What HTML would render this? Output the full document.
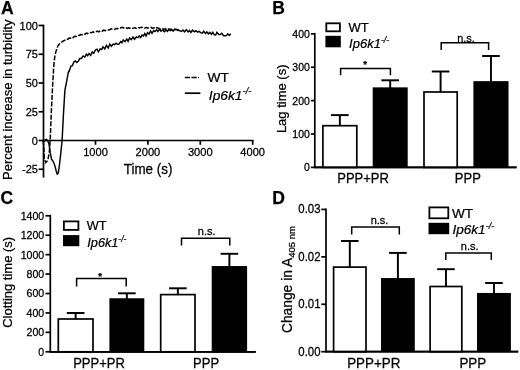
<!DOCTYPE html>
<html lang="en"><head><meta charset="utf-8"><title>Figure</title>
<style>
html,body{margin:0;padding:0;background:#fff;}
body{width:520px;height:370px;overflow:hidden;}
svg{display:block;will-change:transform;}
svg text{font-family:"Liberation Sans", Arial, Helvetica, sans-serif;fill:#000;stroke:#000;stroke-width:0.25px;}
</style></head><body>
<svg width="520" height="370" viewBox="0 0 520 370">
<rect x="0" y="0" width="520" height="370" fill="#fff"/>
<text transform="translate(1.10,13.80) scale(1,1.0)" font-size="17.5" text-anchor="start" font-weight="bold" font-style="normal" >A</text>
<text transform="translate(272.20,13.70) scale(1,1.0)" font-size="17.5" text-anchor="start" font-weight="bold" font-style="normal" >B</text>
<text transform="translate(0.40,204.00) scale(1,1.0)" font-size="17.5" text-anchor="start" font-weight="bold" font-style="normal" >C</text>
<text transform="translate(272.30,203.80) scale(1,1.0)" font-size="17.5" text-anchor="start" font-weight="bold" font-style="normal" >D</text>
<line x1="43.50" y1="24.65" x2="43.50" y2="177.60" stroke="#000" stroke-width="1.7" />
<line x1="38.60" y1="25.50" x2="43.50" y2="25.50" stroke="#000" stroke-width="1.7" />
<text transform="translate(37.90,29.50) scale(1,1.02)" font-size="11.0" text-anchor="end" font-weight="normal" font-style="normal" >100</text>
<line x1="38.60" y1="54.25" x2="43.50" y2="54.25" stroke="#000" stroke-width="1.7" />
<text transform="translate(37.90,58.25) scale(1,1.02)" font-size="11.0" text-anchor="end" font-weight="normal" font-style="normal" >75</text>
<line x1="38.60" y1="83.00" x2="43.50" y2="83.00" stroke="#000" stroke-width="1.7" />
<text transform="translate(37.90,87.00) scale(1,1.02)" font-size="11.0" text-anchor="end" font-weight="normal" font-style="normal" >50</text>
<line x1="38.60" y1="111.75" x2="43.50" y2="111.75" stroke="#000" stroke-width="1.7" />
<text transform="translate(37.90,115.75) scale(1,1.02)" font-size="11.0" text-anchor="end" font-weight="normal" font-style="normal" >25</text>
<line x1="38.60" y1="140.50" x2="43.50" y2="140.50" stroke="#000" stroke-width="1.7" />
<text transform="translate(37.90,144.50) scale(1,1.02)" font-size="11.0" text-anchor="end" font-weight="normal" font-style="normal" >0</text>
<line x1="38.60" y1="169.25" x2="43.50" y2="169.25" stroke="#000" stroke-width="1.7" />
<text transform="translate(37.90,173.25) scale(1,1.02)" font-size="11.0" text-anchor="end" font-weight="normal" font-style="normal" >-25</text>
<line x1="43.50" y1="140.50" x2="253.55" y2="140.50" stroke="#000" stroke-width="1.7" />
<line x1="95.50" y1="140.50" x2="95.50" y2="144.80" stroke="#000" stroke-width="1.7" />
<text transform="translate(95.50,156.40) scale(1,1.02)" font-size="11.1" text-anchor="middle" font-weight="normal" font-style="normal" >1000</text>
<line x1="147.90" y1="140.50" x2="147.90" y2="144.80" stroke="#000" stroke-width="1.7" />
<text transform="translate(147.90,156.40) scale(1,1.02)" font-size="11.1" text-anchor="middle" font-weight="normal" font-style="normal" >2000</text>
<line x1="200.30" y1="140.50" x2="200.30" y2="144.80" stroke="#000" stroke-width="1.7" />
<text transform="translate(200.30,156.40) scale(1,1.02)" font-size="11.1" text-anchor="middle" font-weight="normal" font-style="normal" >3000</text>
<line x1="252.70" y1="140.50" x2="252.70" y2="144.80" stroke="#000" stroke-width="1.7" />
<text transform="translate(252.70,156.40) scale(1,1.02)" font-size="11.1" text-anchor="middle" font-weight="normal" font-style="normal" >4000</text>
<text transform="translate(148.10,173.60) scale(1,1.06)" font-size="13.4" text-anchor="middle" font-weight="normal" font-style="normal" >Time (s)</text>
<text transform="translate(12.00,99.80) rotate(-90)" font-size="13" text-anchor="middle" >Percent increase in turbidity</text>
<path d="M43.10,140.50 L43.40,142.86 L43.70,145.21 L44.00,150.76 L44.30,157.90 L44.60,158.82 L44.90,159.74 L45.20,160.66 L45.50,161.58 L45.80,162.50 L46.10,162.19 L46.40,161.87 L46.70,161.56 L47.00,161.24 L47.30,160.93 L47.60,160.61 L47.90,159.87 L48.20,158.27 L48.50,156.67 L48.80,155.07 L49.10,153.26 L49.40,151.04 L49.70,147.18 L50.00,142.49 L50.30,137.80 L50.60,130.06 L50.90,122.32 L51.20,114.58 L51.50,108.00 L51.80,102.00 L52.10,96.00 L52.40,90.00 L52.70,84.51 L53.00,79.27 L53.30,74.03 L53.60,68.79 L53.90,64.38 L54.20,61.61 L54.50,58.84 L54.80,56.52 L55.10,55.09 L55.40,53.66 L55.70,52.39 L56.00,51.44 L56.30,50.50 L56.60,49.55 L56.90,48.61 L57.20,47.66 L57.50,46.72 L57.80,46.13 L58.10,45.73 L58.40,45.33 L58.70,44.93 L59.00,44.53 L59.30,44.13 L59.60,43.73 L59.90,43.33 L60.20,43.06 L60.50,42.85 L60.80,42.65 L61.10,42.44 L61.40,42.23 L61.70,42.02 L62.00,41.82 L62.30,41.61 L62.60,41.40 L62.90,41.24 L63.20,41.08 L63.50,40.92 L63.80,40.76 L64.10,40.61 L64.40,40.45 L64.70,40.29 L65.00,40.13 L65.30,39.97 L65.60,39.81 L65.90,39.65 L66.20,39.31 L67.79,39.35 L69.21,38.08 L70.43,38.20 L71.69,37.08 L72.96,37.61 L74.73,36.26 L76.52,36.53 L77.89,35.35 L79.27,35.46 L80.82,34.54 L82.35,34.67 L83.68,33.83 L85.06,34.20 L86.44,33.05 L87.79,33.58 L89.52,32.51 L91.30,32.78 L92.96,31.81 L94.18,32.48 L95.73,32.03 L97.34,31.07 L98.82,31.82 L100.30,30.84 L101.92,31.35 L103.61,30.17 L105.22,30.62 L106.52,29.90 L108.18,30.10 L109.61,29.82 L111.08,28.87 L112.77,28.90 L114.22,29.52 L116.00,28.42 L117.34,28.67 L118.89,27.76 L120.34,27.95 L122.11,27.25 L123.68,27.93 L125.42,27.35 L127.10,28.36 L128.36,27.91 L129.60,28.26 L131.01,27.83 L132.30,28.24 L133.51,28.31 L134.80,27.52 L136.22,28.31 L138.02,27.33 L139.27,27.96 L140.63,27.38 L141.84,27.24 L143.13,27.81 L144.65,28.22 L146.26,27.40 L147.57,28.13 L149.23,27.52 L150.92,27.30 L152.60,28.48 L153.94,27.82 L155.16,28.53 L156.51,27.80 L157.98,27.94 L159.75,28.96 L161.09,28.59 L162.66,28.44 L164.15,29.61 L165.40,28.65 L167.07,29.71 L168.38,29.16 L170.06,29.28 L171.50,29.21 L172.80,29.99 L174.55,29.66 L176.24,29.53 L177.65,30.27 L178.86,30.57" fill="none" stroke="#000" stroke-width="1.5" stroke-dasharray="5 1.6"/>
<path d="M43.10,140.50 L43.40,140.71 L43.70,140.93 L44.00,141.14 L44.30,141.36 L44.60,141.33 L44.90,140.82 L45.20,140.31 L45.50,139.80 L45.80,139.65 L46.10,139.50 L46.40,139.35 L46.70,139.56 L47.00,139.95 L47.30,140.35 L47.60,140.74 L47.90,141.25 L48.20,142.00 L48.50,142.75 L48.80,143.50 L49.10,144.68 L49.40,146.74 L49.70,148.79 L50.00,150.85 L50.30,152.90 L50.60,154.45 L50.90,156.00 L51.20,157.55 L51.50,159.10 L51.80,159.53 L52.10,159.97 L52.40,160.40 L52.70,160.83 L53.00,161.27 L53.30,161.70 L53.60,162.44 L53.90,163.18 L54.20,163.92 L54.50,164.66 L54.80,165.40 L55.10,166.60 L55.40,167.80 L55.70,169.00 L56.00,170.20 L56.30,171.31 L56.60,172.24 L56.90,173.16 L57.20,174.09 L57.50,174.12 L57.80,173.70 L58.10,173.28 L58.40,172.30 L58.70,170.20 L59.00,168.10 L59.30,166.00 L59.60,163.57 L59.90,161.14 L60.20,158.71 L60.50,155.97 L60.80,153.07 L61.10,150.17 L61.40,147.27 L61.70,144.37 L62.00,141.47 L62.30,136.59 L62.60,130.73 L62.90,124.87 L63.20,119.01 L63.50,113.43 L63.80,108.41 L64.10,103.39 L64.40,98.37 L64.70,93.35 L65.00,89.53 L65.30,88.11 L65.60,86.69 L65.90,85.27 L66.20,83.85 L66.50,82.34 L66.80,80.66 L67.10,78.97 L67.40,77.29 L67.70,75.61 L68.00,73.92 L68.30,72.55 L68.60,71.80 L68.90,71.05 L69.20,71.28 L70.98,66.05 L72.38,65.59 L73.98,61.79 L75.30,61.00 L76.83,62.45 L78.33,60.99 L79.90,58.53 L81.41,58.49 L83.14,55.99 L84.83,57.01 L86.40,54.12 L87.70,55.77 L89.11,53.40 L90.70,55.40 L92.22,52.05 L93.77,53.40 L95.34,50.05 L97.02,49.28 L98.42,51.89 L100.18,48.87 L101.69,49.49 L102.98,46.75 L104.78,48.89 L106.42,45.44 L108.26,47.99 L109.75,44.16 L111.51,46.21 L113.07,44.03 L114.50,44.66 L116.09,43.24 L117.53,44.33 L118.81,44.30 L120.66,41.55 L121.92,42.70 L123.24,39.95 L124.99,41.62 L126.80,39.14 L128.09,41.37 L129.60,37.98 L131.23,39.63 L133.00,37.03 L134.52,39.21 L136.34,36.93 L137.90,37.60 L139.24,35.94 L140.68,37.57 L142.10,35.02 L143.55,35.89 L144.80,33.58 L146.16,35.84 L147.47,32.78 L149.01,34.14 L150.57,30.96 L152.02,33.43 L153.65,30.63 L154.93,31.54 L156.63,29.82 L157.92,31.56 L159.57,29.08 L161.00,31.19 L162.51,30.04 L164.36,31.77 L166.19,29.96 L167.44,31.39 L168.99,29.26 L170.23,30.68 L171.72,29.80 L173.15,31.23 L174.71,29.09 L176.40,29.39 L177.84,29.66 L179.53,30.69 L181.29,31.46 L182.98,29.95 L184.55,31.90 L186.29,29.66 L188.08,31.96 L189.46,30.41 L190.93,32.39 L192.51,30.14 L194.17,31.75 L195.91,30.59 L197.48,32.13 L199.18,31.40 L200.58,32.61 L202.28,33.11 L203.76,31.19 L205.47,33.61 L206.76,31.98 L208.46,33.83 L209.71,32.27 L211.37,34.25 L212.79,32.37 L214.32,34.80 L215.68,34.99 L216.93,32.40 L218.77,34.56 L220.14,34.63 L221.74,33.22 L223.57,35.66 L225.13,35.69 L226.51,35.59 L227.77,33.86 L229.29,35.48 L230.74,33.77" fill="none" stroke="#000" stroke-width="1.45" stroke-linejoin="miter"/>
<line x1="184.80" y1="77.50" x2="199.00" y2="77.50" stroke="#000" stroke-width="1.7" stroke-dasharray="5.3 1.4"/>
<line x1="184.80" y1="93.20" x2="200.40" y2="93.20" stroke="#000" stroke-width="1.7" />
<text transform="translate(207.60,82.00) scale(1,0.97)" font-size="13.8" text-anchor="start" font-weight="normal" font-style="normal" >WT</text>
<text transform="translate(208.80,99.60) scale(1,0.97)" font-size="13.8" font-style="italic">Ip6k1<tspan font-size="9.4" dy="-5.5">-/-</tspan></text>
<line x1="314.80" y1="33.00" x2="314.80" y2="168.25" stroke="#000" stroke-width="1.7" />
<line x1="314.80" y1="167.40" x2="516.60" y2="167.40" stroke="#000" stroke-width="1.7" />
<line x1="310.90" y1="167.40" x2="314.80" y2="167.40" stroke="#000" stroke-width="1.7" />
<text transform="translate(309.80,171.30) scale(1,1.06)" font-size="10.5" text-anchor="end" font-weight="normal" font-style="normal" >0</text>
<line x1="310.90" y1="134.01" x2="314.80" y2="134.01" stroke="#000" stroke-width="1.7" />
<text transform="translate(309.80,137.91) scale(1,1.06)" font-size="10.5" text-anchor="end" font-weight="normal" font-style="normal" >100</text>
<line x1="310.90" y1="100.62" x2="314.80" y2="100.62" stroke="#000" stroke-width="1.7" />
<text transform="translate(309.80,104.53) scale(1,1.06)" font-size="10.5" text-anchor="end" font-weight="normal" font-style="normal" >200</text>
<line x1="310.90" y1="67.24" x2="314.80" y2="67.24" stroke="#000" stroke-width="1.7" />
<text transform="translate(309.80,71.14) scale(1,1.06)" font-size="10.5" text-anchor="end" font-weight="normal" font-style="normal" >300</text>
<line x1="310.90" y1="33.85" x2="314.80" y2="33.85" stroke="#000" stroke-width="1.7" />
<text transform="translate(309.80,37.75) scale(1,1.06)" font-size="10.5" text-anchor="end" font-weight="normal" font-style="normal" >400</text>
<line x1="339.85" y1="125.70" x2="339.85" y2="115.10" stroke="#000" stroke-width="1.95" />
<line x1="331.05" y1="115.10" x2="348.65" y2="115.10" stroke="#000" stroke-width="1.95" />
<rect x="322.90" y="125.70" width="33.90" height="41.70" fill="#fff" stroke="#000" stroke-width="1.7"/>
<line x1="390.20" y1="88.20" x2="390.20" y2="80.30" stroke="#000" stroke-width="1.95" />
<line x1="381.40" y1="80.30" x2="399.00" y2="80.30" stroke="#000" stroke-width="1.95" />
<rect x="372.70" y="87.35" width="35.00" height="80.05" fill="#000"/>
<line x1="440.60" y1="92.00" x2="440.60" y2="71.50" stroke="#000" stroke-width="1.95" />
<line x1="431.80" y1="71.50" x2="449.40" y2="71.50" stroke="#000" stroke-width="1.95" />
<rect x="424.00" y="92.00" width="33.20" height="75.40" fill="#fff" stroke="#000" stroke-width="1.7"/>
<line x1="490.95" y1="82.00" x2="490.95" y2="56.00" stroke="#000" stroke-width="1.95" />
<line x1="482.15" y1="56.00" x2="499.75" y2="56.00" stroke="#000" stroke-width="1.95" />
<rect x="473.40" y="81.15" width="35.10" height="86.25" fill="#000"/>
<line x1="314.80" y1="167.40" x2="516.60" y2="167.40" stroke="#000" stroke-width="1.7" />
<rect x="326.30" y="23.30" width="13.60" height="8.00" fill="#fff" stroke="#000" stroke-width="1.8"/>
<rect x="325.40" y="35.80" width="15.40" height="11.50" fill="#000"/>
<text transform="translate(348.60,31.60) scale(1,0.97)" font-size="13.0" text-anchor="start" font-weight="normal" font-style="normal" >WT</text>
<text transform="translate(349.10,47.60) scale(1,0.97)" font-size="13.0" font-style="italic">Ip6k1<tspan font-size="8.8" dy="-5.2">-/-</tspan></text>
<path d="M340.60,75.20 V68.40 H390.40 V75.20" fill="none" stroke="#000" stroke-width="1.5"/>
<text transform="translate(365.20,67.40) scale(1,1.0)" font-size="9.5" text-anchor="middle" font-weight="bold" font-style="normal" >*</text>
<path d="M441.20,50.10 V42.70 H488.60 V50.10" fill="none" stroke="#000" stroke-width="1.5"/>
<text transform="translate(466.00,41.50) scale(1,1.06)" font-size="11" text-anchor="middle" font-weight="normal" font-style="normal" >n.s.</text>
<text transform="translate(363.10,183.00) scale(1,1.06)" font-size="13" text-anchor="middle" font-weight="normal" font-style="normal" >PPP+PR</text>
<text transform="translate(467.80,183.00) scale(1,1.06)" font-size="13" text-anchor="middle" font-weight="normal" font-style="normal" >PPP</text>
<text transform="translate(285.5,98.8) rotate(-90)" font-size="13" text-anchor="middle">Lag time (s)</text>
<line x1="50.30" y1="214.85" x2="50.30" y2="352.65" stroke="#000" stroke-width="1.7" />
<line x1="50.30" y1="351.80" x2="255.70" y2="351.80" stroke="#000" stroke-width="1.7" />
<line x1="45.50" y1="351.80" x2="50.30" y2="351.80" stroke="#000" stroke-width="1.7" />
<text transform="translate(44.25,355.70) scale(1,1.06)" font-size="10.6" text-anchor="end" font-weight="normal" font-style="normal" >0</text>
<line x1="45.50" y1="332.37" x2="50.30" y2="332.37" stroke="#000" stroke-width="1.7" />
<text transform="translate(44.25,336.27) scale(1,1.06)" font-size="10.6" text-anchor="end" font-weight="normal" font-style="normal" >200</text>
<line x1="45.50" y1="312.94" x2="50.30" y2="312.94" stroke="#000" stroke-width="1.7" />
<text transform="translate(44.25,316.84) scale(1,1.06)" font-size="10.6" text-anchor="end" font-weight="normal" font-style="normal" >400</text>
<line x1="45.50" y1="293.51" x2="50.30" y2="293.51" stroke="#000" stroke-width="1.7" />
<text transform="translate(44.25,297.41) scale(1,1.06)" font-size="10.6" text-anchor="end" font-weight="normal" font-style="normal" >600</text>
<line x1="45.50" y1="274.08" x2="50.30" y2="274.08" stroke="#000" stroke-width="1.7" />
<text transform="translate(44.25,277.98) scale(1,1.06)" font-size="10.6" text-anchor="end" font-weight="normal" font-style="normal" >800</text>
<line x1="45.50" y1="254.65" x2="50.30" y2="254.65" stroke="#000" stroke-width="1.7" />
<text transform="translate(44.25,258.55) scale(1,1.06)" font-size="10.6" text-anchor="end" font-weight="normal" font-style="normal" >1000</text>
<line x1="45.50" y1="235.22" x2="50.30" y2="235.22" stroke="#000" stroke-width="1.7" />
<text transform="translate(44.25,239.12) scale(1,1.06)" font-size="10.6" text-anchor="end" font-weight="normal" font-style="normal" >1200</text>
<line x1="45.50" y1="215.79" x2="50.30" y2="215.79" stroke="#000" stroke-width="1.7" />
<text transform="translate(44.25,219.69) scale(1,1.06)" font-size="10.6" text-anchor="end" font-weight="normal" font-style="normal" >1400</text>
<line x1="75.65" y1="319.00" x2="75.65" y2="313.00" stroke="#000" stroke-width="1.95" />
<line x1="66.85" y1="313.00" x2="84.45" y2="313.00" stroke="#000" stroke-width="1.95" />
<rect x="58.30" y="319.00" width="34.70" height="32.80" fill="#fff" stroke="#000" stroke-width="1.7"/>
<line x1="126.85" y1="299.10" x2="126.85" y2="293.30" stroke="#000" stroke-width="1.95" />
<line x1="118.05" y1="293.30" x2="135.65" y2="293.30" stroke="#000" stroke-width="1.95" />
<rect x="109.40" y="298.25" width="34.90" height="53.55" fill="#000"/>
<line x1="177.85" y1="294.60" x2="177.85" y2="288.30" stroke="#000" stroke-width="1.95" />
<line x1="169.05" y1="288.30" x2="186.65" y2="288.30" stroke="#000" stroke-width="1.95" />
<rect x="160.70" y="294.60" width="34.30" height="57.20" fill="#fff" stroke="#000" stroke-width="1.7"/>
<line x1="229.40" y1="266.90" x2="229.40" y2="253.80" stroke="#000" stroke-width="1.95" />
<line x1="220.60" y1="253.80" x2="238.20" y2="253.80" stroke="#000" stroke-width="1.95" />
<rect x="211.70" y="266.05" width="35.40" height="85.75" fill="#000"/>
<line x1="50.30" y1="351.80" x2="255.70" y2="351.80" stroke="#000" stroke-width="1.7" />
<rect x="63.90" y="221.40" width="14.50" height="8.50" fill="#fff" stroke="#000" stroke-width="1.8"/>
<rect x="63.00" y="235.10" width="16.30" height="11.10" fill="#000"/>
<text transform="translate(86.80,230.20) scale(1,0.97)" font-size="12.7" text-anchor="start" font-weight="normal" font-style="normal" >WT</text>
<text transform="translate(87.30,246.60) scale(1,0.97)" font-size="12.7" font-style="italic">Ip6k1<tspan font-size="8.6" dy="-5.1">-/-</tspan></text>
<path d="M76.60,286.50 V278.60 H126.20 V286.50" fill="none" stroke="#000" stroke-width="1.5"/>
<text transform="translate(100.00,279.40) scale(1,1.0)" font-size="9.5" text-anchor="middle" font-weight="bold" font-style="normal" >*</text>
<path d="M181.50,245.50 V238.30 H229.80 V245.50" fill="none" stroke="#000" stroke-width="1.5"/>
<text transform="translate(206.70,234.60) scale(1,1.06)" font-size="11" text-anchor="middle" font-weight="normal" font-style="normal" >n.s.</text>
<text transform="translate(99.00,367.60) scale(1,1.06)" font-size="13" text-anchor="middle" font-weight="normal" font-style="normal" >PPP+PR</text>
<text transform="translate(206.10,367.60) scale(1,1.06)" font-size="13" text-anchor="middle" font-weight="normal" font-style="normal" >PPP</text>
<text transform="translate(11.6,282.3) rotate(-90)" font-size="13" text-anchor="middle">Clotting time (s)</text>
<line x1="326.00" y1="208.55" x2="326.00" y2="352.55" stroke="#000" stroke-width="1.7" />
<line x1="326.00" y1="351.70" x2="518.20" y2="351.70" stroke="#000" stroke-width="1.7" />
<line x1="321.30" y1="351.70" x2="326.00" y2="351.70" stroke="#000" stroke-width="1.7" />
<text transform="translate(320.50,355.60) scale(1,1.06)" font-size="11.4" text-anchor="end" font-weight="normal" font-style="normal" >0.00</text>
<line x1="321.30" y1="304.27" x2="326.00" y2="304.27" stroke="#000" stroke-width="1.7" />
<text transform="translate(320.50,308.17) scale(1,1.06)" font-size="11.4" text-anchor="end" font-weight="normal" font-style="normal" >0.01</text>
<line x1="321.30" y1="256.84" x2="326.00" y2="256.84" stroke="#000" stroke-width="1.7" />
<text transform="translate(320.50,260.74) scale(1,1.06)" font-size="11.4" text-anchor="end" font-weight="normal" font-style="normal" >0.02</text>
<line x1="321.30" y1="209.41" x2="326.00" y2="209.41" stroke="#000" stroke-width="1.7" />
<text transform="translate(320.50,213.31) scale(1,1.06)" font-size="11.4" text-anchor="end" font-weight="normal" font-style="normal" >0.03</text>
<line x1="349.80" y1="267.10" x2="349.80" y2="241.00" stroke="#000" stroke-width="1.95" />
<line x1="341.00" y1="241.00" x2="358.60" y2="241.00" stroke="#000" stroke-width="1.95" />
<rect x="333.60" y="267.10" width="32.40" height="84.60" fill="#fff" stroke="#000" stroke-width="1.7"/>
<line x1="397.90" y1="278.90" x2="397.90" y2="252.90" stroke="#000" stroke-width="1.95" />
<line x1="389.10" y1="252.90" x2="406.70" y2="252.90" stroke="#000" stroke-width="1.95" />
<rect x="381.00" y="278.05" width="33.80" height="73.65" fill="#000"/>
<line x1="445.95" y1="286.50" x2="445.95" y2="269.20" stroke="#000" stroke-width="1.95" />
<line x1="437.15" y1="269.20" x2="454.75" y2="269.20" stroke="#000" stroke-width="1.95" />
<rect x="430.10" y="286.50" width="31.70" height="65.20" fill="#fff" stroke="#000" stroke-width="1.7"/>
<line x1="493.95" y1="293.80" x2="493.95" y2="283.00" stroke="#000" stroke-width="1.95" />
<line x1="485.15" y1="283.00" x2="502.75" y2="283.00" stroke="#000" stroke-width="1.95" />
<rect x="477.00" y="292.95" width="33.90" height="58.75" fill="#000"/>
<line x1="326.00" y1="351.70" x2="518.20" y2="351.70" stroke="#000" stroke-width="1.7" />
<rect x="429.40" y="207.40" width="18.90" height="10.90" fill="#fff" stroke="#000" stroke-width="1.8"/>
<rect x="428.50" y="222.80" width="20.70" height="11.40" fill="#000"/>
<text transform="translate(451.90,217.70) scale(1,0.97)" font-size="13.6" text-anchor="start" font-weight="normal" font-style="normal" >WT</text>
<text transform="translate(452.40,234.20) scale(1,0.97)" font-size="13.6" font-style="italic">Ip6k1<tspan font-size="9.2" dy="-5.4">-/-</tspan></text>
<path d="M351.70,234.50 V227.10 H399.30 V234.50" fill="none" stroke="#000" stroke-width="1.5"/>
<text transform="translate(379.50,224.40) scale(1,1.06)" font-size="11" text-anchor="middle" font-weight="normal" font-style="normal" >n.s.</text>
<path d="M445.80,259.90 V252.90 H491.30 V259.90" fill="none" stroke="#000" stroke-width="1.5"/>
<text transform="translate(469.70,249.90) scale(1,1.06)" font-size="11" text-anchor="middle" font-weight="normal" font-style="normal" >n.s.</text>
<text transform="translate(373.80,367.80) scale(1,1.06)" font-size="13.4" text-anchor="middle" font-weight="normal" font-style="normal" >PPP+PR</text>
<text transform="translate(472.80,367.80) scale(1,1.06)" font-size="13.4" text-anchor="middle" font-weight="normal" font-style="normal" >PPP</text>
<text transform="translate(291.6,279.6) rotate(-90)" font-size="13.8" text-anchor="middle">Change in A<tspan font-size="9.5" dy="3.5">405 nm</tspan></text>
</svg>
</body></html>
